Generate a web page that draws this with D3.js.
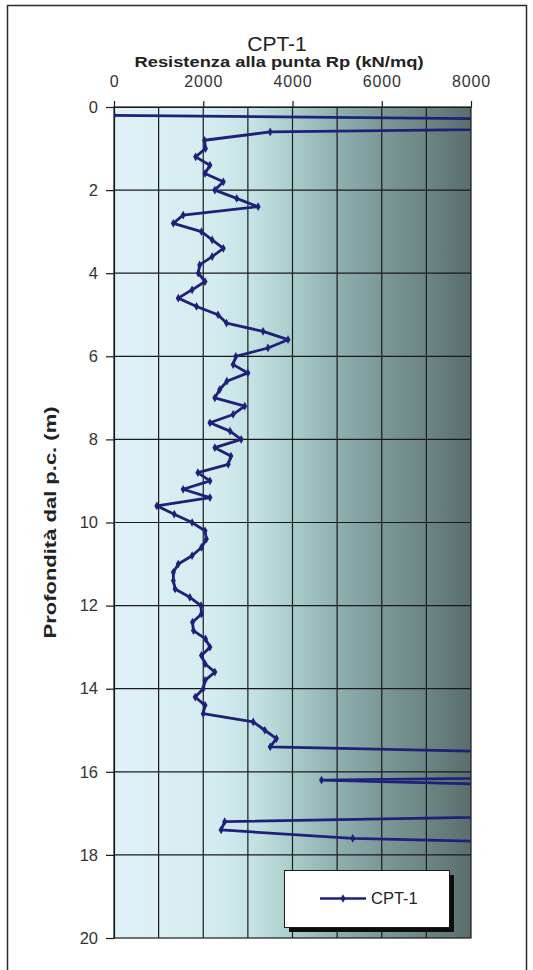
<!DOCTYPE html>
<html>
<head>
<meta charset="utf-8">
<script src="https://cdn.jsdelivr.net/npm/d3@7"></script>
<style>
  html, body { margin: 0; padding: 0; background: #ffffff; }
  svg { display: block; }
  text { font-family: "Liberation Sans", Arial, sans-serif; }
</style>
</head>
<body>
<svg id="chart" width="533" height="970"></svg>
<script>
// CPT-1 cone penetration test: tip resistance Rp (kN/mq) against depth (m)
const chartTitle = "CPT-1";
const xAxisTitle = "Resistenza  alla punta Rp (kN/mq)";
const yAxisTitle = "Profondità dal p.c. (m)";
const seriesName = "CPT-1";

const depth = [
  0.2, 0.4, 0.6, 0.8, 1.0, 1.2, 1.4, 1.6, 1.8, 2.0,
  2.2, 2.4, 2.6, 2.8, 3.0, 3.2, 3.4, 3.6, 3.8, 4.0,
  4.2, 4.4, 4.6, 4.8, 5.0, 5.2, 5.4, 5.6, 5.8, 6.0,
  6.2, 6.4, 6.6, 6.8, 7.0, 7.2, 7.4, 7.6, 7.8, 8.0,
  8.2, 8.4, 8.6, 8.8, 9.0, 9.2, 9.4, 9.6, 9.8, 10.0,
  10.2, 10.4, 10.6, 10.8, 11.0, 11.2, 11.4, 11.6, 11.8, 12.0,
  12.2, 12.4, 12.6, 12.8, 13.0, 13.2, 13.4, 13.6, 13.8, 14.0,
  14.2, 14.4, 14.6, 14.8, 15.0, 15.2, 15.4, 15.6, 15.8, 16.0,
  16.2, 16.4, 16.6, 16.8, 17.0, 17.2, 17.4, 17.6, 17.8
];

const rp = [
  0, 20000, 3500, 2030, 2050, 1830, 2150, 2040, 2450, 2260,
  2750, 3230, 1550, 1330, 1960, 2200, 2450, 2200, 1920, 1890,
  2040, 1750, 1440, 1850, 2330, 2520, 3340, 3900, 3450, 2730,
  2670, 3000, 2530, 2370, 2260, 2930, 2670, 2150, 2600, 2850,
  2260, 2620, 2560, 1880, 2150, 1550, 2150, 960, 1350, 1750,
  2040, 2070, 1960, 1750, 1440, 1330, 1330, 1370, 1700, 1950,
  1960, 1760, 1780, 2050, 2150, 1960, 2040, 2260, 2040, 2000,
  1820, 2040, 2000, 3120, 3380, 3640, 3500, 12400, 16000, 20000,
  4650, 12000, 15000, 15000, 13100, 2480, 2400, 5350, 12900
];

const xTicks = [0, 2000, 4000, 6000, 8000];
const xGrid = [1000, 2000, 3000, 4000, 5000, 6000, 7000];
const yTicks = [0, 2, 4, 6, 8, 10, 12, 14, 16, 18, 20];

const data = depth.map((d, i) => ({ depth: d, rp: rp[i] }));

const svg = d3.select("#chart");
const plot = { left: 114, right: 471, top: 107, bottom: 938 };

const x = d3.scaleLinear().domain([0, 8000]).range([plot.left, plot.right]);
const y = d3.scaleLinear().domain([0, 20]).range([plot.top, plot.bottom]);

const defs = svg.append("defs");

// horizontal background shading of the plot area
const grad = defs.append("linearGradient")
  .attr("id", "bg").attr("x1", "0%").attr("x2", "100%").attr("y1", "0%").attr("y2", "0%");
[
  [0, "#e0f1f8"], [0.28, "#d4ecf0"], [0.40, "#c2e0e1"], [0.50, "#a9cdcb"],
  [0.62, "#8fb1b0"], [0.75, "#7b9897"], [0.88, "#6b8583"], [1, "#5a6e6c"]
].forEach(([o, c]) => grad.append("stop").attr("offset", o).attr("stop-color", c));

defs.append("clipPath").attr("id", "plotClip")
  .append("rect")
  .attr("x", plot.left).attr("y", plot.top)
  .attr("width", plot.right - plot.left).attr("height", plot.bottom - plot.top);

// outer chart frame
svg.append("rect")
  .attr("x", 7.5).attr("y", 5.5).attr("width", 519).attr("height", 990)
  .attr("fill", "#ffffff").attr("stroke", "#2a2a2a").attr("stroke-width", 1.5);

// plot background
svg.append("rect")
  .attr("x", plot.left).attr("y", plot.top)
  .attr("width", plot.right - plot.left).attr("height", plot.bottom - plot.top)
  .attr("fill", "url(#bg)");

// grid
const grid = svg.append("g").attr("stroke", "#1a1a1a").attr("stroke-width", 1.2);
grid.selectAll("line.v").data(xGrid).join("line")
  .attr("x1", d => x(d)).attr("x2", d => x(d))
  .attr("y1", plot.top).attr("y2", plot.bottom);
grid.selectAll("line.h").data(yTicks.slice(1, -1)).join("line")
  .attr("x1", plot.left).attr("x2", plot.right)
  .attr("y1", d => y(d)).attr("y2", d => y(d));

svg.append("rect")
  .attr("x", plot.left).attr("y", plot.top)
  .attr("width", plot.right - plot.left).attr("height", plot.bottom - plot.top)
  .attr("fill", "none").attr("stroke", "#1a1a1a").attr("stroke-width", 1.2);

// axes
const xAxis = svg.append("g")
  .attr("transform", `translate(0,${plot.top})`)
  .call(d3.axisTop(x).tickValues(xTicks).tickSize(6).tickPadding(14).tickSizeOuter(0));
xAxis.select(".domain").attr("stroke", "#1a1a1a").attr("stroke-width", 1.2);
xAxis.selectAll(".tick line").attr("stroke", "#1a1a1a").attr("stroke-width", 1.2);
xAxis.selectAll(".tick text")
  .attr("font-size", 16).attr("fill", "#333").attr("letter-spacing", 0.8)
  .style("font-family", "'Liberation Sans', Arial, sans-serif")
  .text(d => String(d));

const yAxis = svg.append("g")
  .attr("transform", `translate(${plot.left},0)`)
  .call(d3.axisLeft(y).tickValues(yTicks).tickSize(8).tickPadding(8).tickSizeOuter(0));
yAxis.select(".domain").attr("stroke", "#1a1a1a").attr("stroke-width", 1.2);
yAxis.selectAll(".tick line").attr("stroke", "#1a1a1a").attr("stroke-width", 1.2);
yAxis.selectAll(".tick text")
  .attr("font-size", 16.5).attr("fill", "#333")
  .style("font-family", "'Liberation Sans', Arial, sans-serif");

// titles
svg.append("text")
  .attr("x", 277).attr("y", 51).attr("text-anchor", "middle")
  .attr("font-size", 21).attr("fill", "#222").text(chartTitle);

svg.append("text")
  .attr("x", 279).attr("y", 67).attr("text-anchor", "middle")
  .attr("font-size", 15).attr("font-weight", "bold").attr("fill", "#222")
  .attr("textLength", 289).attr("lengthAdjust", "spacingAndGlyphs")
  .text(xAxisTitle);

svg.append("text")
  .attr("transform", `translate(56,${(plot.top + plot.bottom) / 2}) rotate(-90)`)
  .attr("text-anchor", "middle")
  .attr("font-size", 16).attr("font-weight", "bold").attr("fill", "#222")
  .attr("textLength", 232).attr("lengthAdjust", "spacingAndGlyphs")
  .text(yAxisTitle);

// series line with diamond markers
const lineColor = "#20207a";
const seriesG = svg.append("g").attr("clip-path", "url(#plotClip)");
const line = d3.line().x(d => x(d.rp)).y(d => y(d.depth));
seriesG.append("path").datum(data)
  .attr("d", line).attr("fill", "none")
  .attr("stroke", lineColor).attr("stroke-width", 2.8).attr("stroke-linejoin", "round");
const diamond = d3.symbol().type(d3.symbolDiamond).size(22);
seriesG.selectAll("path.mk").data(data).join("path")
  .attr("class", "mk")
  .attr("transform", d => `translate(${x(d.rp)},${y(d.depth)})`)
  .attr("d", diamond).attr("fill", lineColor);

// legend
const lg = svg.append("g");
lg.append("rect").attr("x", 289).attr("y", 875).attr("width", 165).attr("height", 57).attr("fill", "#0d0d0d");
lg.append("rect").attr("x", 284.5).attr("y", 870.5).attr("width", 165).attr("height", 57)
  .attr("fill", "#ffffff").attr("stroke", "#1a1a1a").attr("stroke-width", 1);
lg.append("line").attr("x1", 320).attr("x2", 366).attr("y1", 898.5).attr("y2", 898.5)
  .attr("stroke", lineColor).attr("stroke-width", 2.6);
lg.append("path").attr("transform", "translate(343,898.5)").attr("d", diamond).attr("fill", lineColor);
lg.append("text").attr("x", 371).attr("y", 904).attr("font-size", 16.5).attr("fill", "#222").text(seriesName);
</script>
</body>
</html>
